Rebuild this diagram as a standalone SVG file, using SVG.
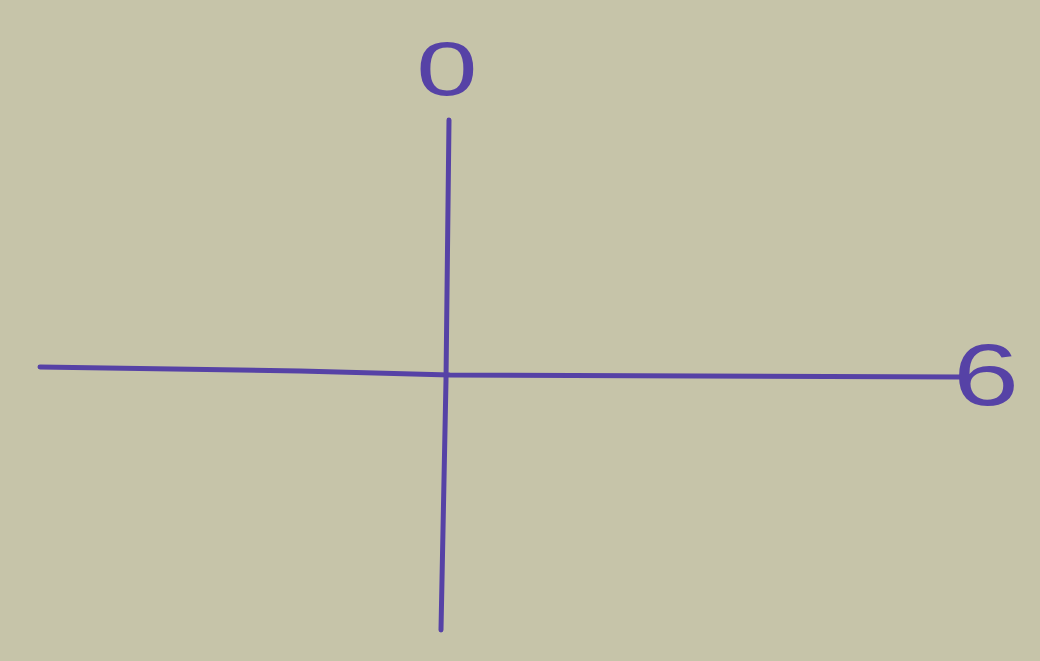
<svg xmlns="http://www.w3.org/2000/svg" width="1040" height="661" viewBox="0 0 1040 661">
<style>
.ink{stroke:#5642a6;stroke-width:5;stroke-linecap:round;fill:none}
.lbl{font-family:"Liberation Sans",Arial,sans-serif;fill:#5642a6}
</style>
<rect width="1040" height="661" fill="#c6c4a9"/>
<g id="connectors">
<path class="ink" d="M40,367 L300,371 L450,375 L960,377"/>
<path class="ink" d="M449,120 L446,380 L441,630"/>
</g>
<g id="label-0">
<text class="lbl" transform="translate(447,95) scale(1.45,1)" text-anchor="middle" font-size="76">0</text>
</g>
<g id="label-6">
<text class="lbl" transform="translate(986,405) scale(1.35,1)" text-anchor="middle" font-size="88">6</text>
</g>
</svg>
